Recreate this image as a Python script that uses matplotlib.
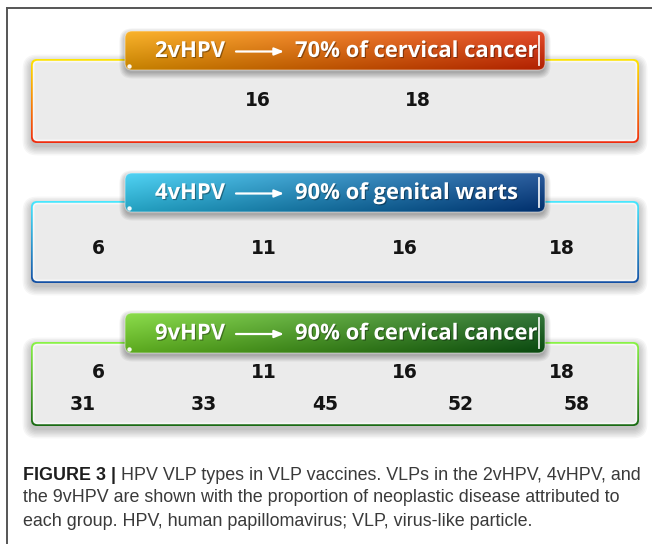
import numpy as np
import matplotlib
matplotlib.use('Agg')
import matplotlib.pyplot as plt
import matplotlib.patheffects as pe
from matplotlib.patches import FancyBboxPatch
from matplotlib.colors import to_rgb

# --- content ---
vaccines = ['2vHPV', '4vHPV', '9vHPV']
coverage = ['70% of cervical cancer', '90% of genital warts', '90% of cervical cancer']
types_row1 = [['16', '18'], ['6', '11', '16', '18'], ['6', '11', '16', '18']]
types_row2 = [[], [], ['31', '33', '45', '52', '58']]
caption_bold = 'FIGURE 3 |'
caption_lines = [' HPV VLP types in VLP vaccines. VLPs in the 2vHPV, 4vHPV, and',
                 'the 9vHPV are shown with the proportion of neoplastic disease attributed to',
                 'each group. HPV, human papillomavirus; VLP, virus-like particle.']

# --- layout (pixel coordinates, y downwards) ---
W, H = 652, 544
box_x = (31, 639)
hdr_x = (125, 545)
box_y = [(59, 143), (201, 283), (342, 426)]
hdr_y = [(31, 70), (173, 212), (313, 353)]
row1_y = [101, 248, 372]
row2_y = [None, None, 404]
row1_x = [[258, 418], [98, 264, 405, 562], [98, 264, 405, 562]]
row2_x = [[], [], [83, 204, 325, 461, 577]]

hdr_colors = [('#f9a400', '#de2800'), ('#2ccaf2', '#003a88'), ('#74d626', '#0b5a12')]
border_colors = [('#ffe600', '#f02c10'), ('#48e8ff', '#1450a4'), ('#8af446', '#1a6a14')]

fig = plt.figure(figsize=(W / 100, H / 100), dpi=100)
ax = fig.add_axes([0, 0, 1, 1])
renderer = fig.canvas.get_renderer()


def rbox(x0, y0, x1, y1, r, **kw):
    p = FancyBboxPatch((x0, y0), x1 - x0, y1 - y0,
                       boxstyle=f'round,pad=0,rounding_size={r}', **kw)
    ax.add_patch(p)
    return p


def gradient(x0, y0, x1, y1, c0, c1, vertical, clip, gloss=0.0):
    n = 200
    t = np.linspace(0, 1, n)
    a, b = np.array(to_rgb(c0)), np.array(to_rgb(c1))
    line = a[None, :] * (1 - t[:, None]) + b[None, :] * t[:, None]
    if vertical:
        img = np.repeat(line[:, None, :], 2, axis=1)
    else:
        img = np.repeat(line[None, :, :], n, axis=0)
        ty = t[:, None, None]
        img = img * (1 - gloss * ty * 0.6) + gloss * (1 - ty) * (1 - img) * 0.5
    im = ax.imshow(np.clip(img, 0, 1), extent=(x0, x1, y1, y0), origin='upper',
                   aspect='auto', interpolation='bilinear', zorder=clip.get_zorder())
    im.set_clip_path(clip)


def shadow(x0, y0, x1, y1, r, dy=3, layers=7, spread=1.4, alpha=0.035, z=1):
    for i in range(layers):
        s = i * spread
        rbox(x0 - s, y0 - s + dy, x1 + s, y1 + s + dy, r + s,
             fc='black', ec='none', alpha=alpha, zorder=z)


def fit_size(s, width, **kw):
    t = ax.text(0, 0, s, fontsize=10, **kw)
    w = t.get_window_extent(renderer=renderer).width
    t.remove()
    return 10 * width / w


hdr_font = dict(family=['Open Sans', 'DejaVu Sans'], weight='bold')
hdr_fs = min(fit_size(coverage[0], 243, **hdr_font), fit_size(vaccines[0], 70, **hdr_font))
num_font = dict(family='DejaVu Sans', weight='bold', fontsize=13.5, color='#141414')

for i in range(3):
    bx0, bx1 = box_x
    by0, by1 = box_y[i]
    hx0, hx1 = hdr_x
    hy0, hy1 = hdr_y[i]

    # panel
    shadow(bx0, by0, bx1, by1, 6, dy=4, z=1)
    outer = rbox(bx0, by0, bx1, by1, 6, fc='none', ec='none', zorder=2)
    gradient(bx0, by0, bx1, by1, border_colors[i][0], border_colors[i][1], True, outer)
    rbox(bx0 + 2.6, by0 + 2.6, bx1 - 2.6, by1 - 2.6, 4,
         fc='#ebebeb', ec='#f7f7f7', lw=1.2, zorder=3)

    # header
    shadow(hx0, hy0, hx1, hy1, 7, dy=3, layers=6, spread=1.1, alpha=0.05, z=4)
    hclip = rbox(hx0, hy0, hx1, hy1, 7, fc='none', ec='none', zorder=5)
    gradient(hx0, hy0, hx1, hy1, hdr_colors[i][0], hdr_colors[i][1], False, hclip, gloss=0.35)
    rbox(hx0, hy0, hx1, hy1, 7, fc='none', ec='#ffffff', lw=0.8, alpha=0.45, zorder=6)
    ax.plot([hx1 - 6, hx1 - 6], [hy0 + 5, hy1 - 5], color='white', lw=1.3, alpha=0.9, zorder=7)
    ax.plot([hx0 + 4], [hy1 - 4], 'o', ms=2.2, color='white', alpha=0.9, zorder=7)

    yc = (hy0 + hy1) / 2 + 1
    shade = [pe.withSimplePatchShadow(offset=(0.8, -0.8), shadow_rgbFace='black', alpha=0.35)]
    ax.text(155, yc, vaccines[i], fontsize=hdr_fs, color='white', ha='left', va='center',
            zorder=8, path_effects=shade, **hdr_font)
    ax.annotate('', xy=(284, yc), xytext=(236, yc), zorder=8,
                arrowprops=dict(arrowstyle='-|>,head_length=0.55,head_width=0.22',
                                color='white', lw=1.6, shrinkA=0, shrinkB=0))
    ax.text(295, yc, coverage[i], fontsize=hdr_fs, color='white', ha='left', va='center',
            zorder=8, path_effects=shade, **hdr_font)

    # HPV types
    for lab, x in zip(types_row1[i], row1_x[i]):
        ax.text(x, row1_y[i], lab, ha='center', va='center', zorder=8, **num_font)
    for lab, x in zip(types_row2[i], row2_x[i]):
        ax.text(x, row2_y[i], lab, ha='center', va='center', zorder=8, **num_font)

# outer frame
ax.plot([7, 7], [8, H], color='#555555', lw=1.4, zorder=10)
ax.plot([7, W], [8, 8], color='#555555', lw=1.4, zorder=10)

# caption
cap_font = ['Liberation Sans', 'DejaVu Sans']
cap_y = [475, 498, 521]
cap_fs = fit_size(caption_bold + caption_lines[0], 617, family=cap_font)
tb = ax.text(23, cap_y[0], caption_bold, fontsize=cap_fs, family=cap_font, weight='bold',
             color='#1e1e1e', ha='left', va='center', zorder=10)
bw = tb.get_window_extent(renderer=renderer).width
ax.text(23 + bw, cap_y[0], caption_lines[0], fontsize=cap_fs, family=cap_font,
        color='#3a3a3a', ha='left', va='center', zorder=10)
for line, y in zip(caption_lines[1:], cap_y[1:]):
    ax.text(23, y, line, fontsize=cap_fs, family=cap_font, color='#3a3a3a',
            ha='left', va='center', zorder=10)

ax.set_xlim(0, W)
ax.set_ylim(H, 0)
ax.axis('off')
fig.savefig('out.png', dpi=100, facecolor='white')
